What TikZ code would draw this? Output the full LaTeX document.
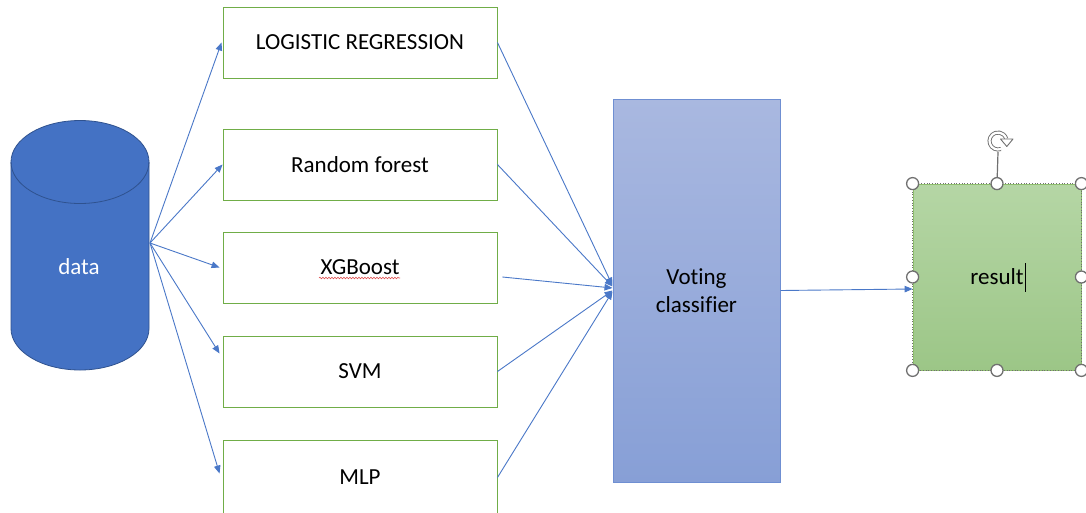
\documentclass[tikz,border=0pt]{standalone}
\usepackage{fontspec}
\setmainfont{Carlito}[Ligatures=NoCommon]
\usetikzlibrary{arrows.meta,decorations.pathmorphing}
\definecolor{linkblue}{HTML}{4A78C8}
\definecolor{boxgreen}{HTML}{70AD47}
\definecolor{cylblue}{HTML}{4472C4}
\definecolor{cylborder}{HTML}{2F528F}
\definecolor{voteborder}{HTML}{6F8FD2}
\definecolor{votetop}{HTML}{A9B8E0}
\definecolor{votebottom}{HTML}{879FD6}
\definecolor{restop}{HTML}{B5D6A5}
\definecolor{resbottom}{HTML}{9CC687}
\definecolor{handlegray}{HTML}{707070}
\definecolor{spellred}{HTML}{E05050}
\begin{document}
\begin{tikzpicture}[x=1pt,y=-1pt,
  label font/.style={font=\fontsize{23}{28}\selectfont},
  model/.style={draw=boxgreen, line width=0.9pt, fill=white, minimum width=274pt,
    minimum height=71pt, inner sep=0pt, label font},
  link/.style={draw=linkblue, line width=0.9pt, -{Triangle[length=8pt,width=6.5pt]}},
  handle/.style={circle, draw=handlegray, fill=white, line width=1.3pt,
    minimum size=12pt, inner sep=0pt}]
  % canvas
  \fill[white] (0,0) rectangle (1086,512);
  \useasboundingbox (0,0) rectangle (1086,512);

  % data store (cylinder)
  \path[draw=cylborder, fill=cylblue, line width=0.8pt]
    (11,162) -- (11,328.5)
    arc[start angle=180, end angle=360, x radius=69pt, y radius=41.5pt]
    -- (149,162)
    arc[start angle=0, end angle=180, x radius=69pt, y radius=41.5pt] -- cycle;
  \draw[cylborder, line width=0.8pt] (11,162)
    arc[start angle=180, end angle=360, x radius=69pt, y radius=41.5pt];
  \node[label font, text=white] (data) at (79,267) {data};
  \coordinate (src) at (150,243);

  % base models
  \node[model] (lr)  at (360,42.5)  {LOGISTIC REGRESSION};
  \node[model] (rf)  at (360,164.5) {Random forest};
  \node[model] (xgb) at (360,267.5) {XGBoost};
  \node[model] (svm) at (360,371.5) {SVM};
  \node[model, minimum height=74pt] (mlp) at (360,477.5) {MLP};
  % spell-check underline
  \draw[spellred, line width=0.6pt,
    decorate, decoration={snake, segment length=3pt, amplitude=0.8pt}]
    (319,278) -- (400,278);

  % ensemble
  \node[draw=voteborder, line width=1pt, top color=votetop, bottom color=votebottom,
    minimum width=167pt, minimum height=383pt, inner sep=0pt, align=center,
    label font] (voting) at (696.5,290.5) {Voting\\classifier};

  % result
  \node[draw=boxgreen!80!white, line width=0.8pt, top color=restop, bottom color=resbottom,
    minimum width=168pt, minimum height=186pt, inner sep=0pt, label font]
    (result) at (997,277) {result};
  \draw[handlegray, line width=0.7pt, dotted] (result.north west) rectangle (result.south east);
  \draw[black, line width=0.6pt] (1025,263) -- (1025,292);

  % connectors
  \draw[link] (src) -- ([xshift=-1pt]lr.west);
  \draw[link] (src) -- (rf.west);
  \draw[link] (src) -- ([xshift=-3pt]xgb.west);
  \draw[link] (src) -- ([xshift=-3pt,yshift=18pt]svm.west);
  \draw[link] (src) -- ([xshift=-3pt,yshift=4pt]mlp.west);

  \draw[link] (lr.east) -- ([yshift=5pt]voting.west);
  \draw[link] (rf.east) -- ([yshift=4pt]voting.west);
  \draw[link] ([xshift=5pt,yshift=-9.5pt]xgb.east) -- ([yshift=2.5pt]voting.west);
  \draw[link] (svm.east) -- ([yshift=0pt]voting.west);
  \draw[link] (mlp.east) -- ([yshift=-1pt]voting.west);

  \draw[link] (voting.east) -- ([yshift=-12pt]result.west);

  % selection handles and rotation grip
  \coordinate (rot) at (998,141);
  \draw[handlegray, line width=1.2pt] (998,152) -- (result.north);
  \draw[handlegray, line width=0.9pt, double=white, double distance=2.2pt]
    ([shift={(290:8.5pt)}]rot) arc[start angle=290, end angle=15, radius=8.5pt];
  \draw[handlegray, fill=white, line width=0.9pt, line join=round]
    (1000.5,139) -- (1013,139) -- (1006.8,146.5) -- cycle;
  \node[handle] (hnw) at (result.north west) {};
  \node[handle] (hn)  at (result.north) {};
  \node[handle] (hne) at (result.north east) {};
  \node[handle] (hw)  at (result.west) {};
  \node[handle] (he)  at (result.east) {};
  \node[handle] (hsw) at (result.south west) {};
  \node[handle] (hs)  at (result.south) {};
  \node[handle] (hse) at (result.south east) {};
\end{tikzpicture}
\end{document}
